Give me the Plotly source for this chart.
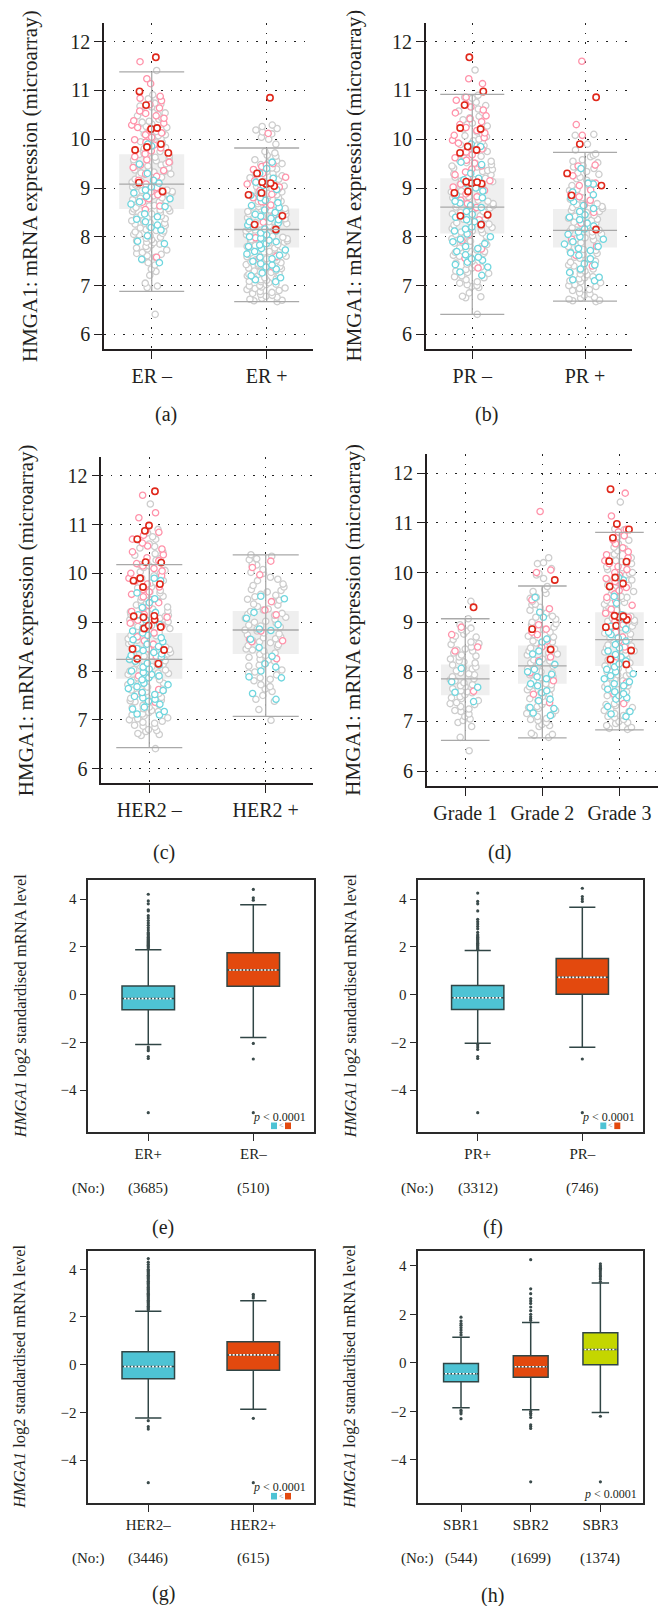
import plotly.graph_objects as go

W, H = 658, 1606
SERIF = "Liberation Serif"
INK = "#231f20"

# ------------------------------------------------------------------
# DATA - top panels (HMGA1 microarray expression, jittered samples)
# ------------------------------------------------------------------
ER_CATS = ["ER –", "ER +"]
ER_NEG_GREY = [6.41, 6.96, 6.99, 7.21, 7.29, 7.34, 7.47, 7.53, 7.58, 7.61, 7.66, 7.68, 7.73, 7.77, 7.8, 7.83, 7.85, 7.89, 7.92, 7.94, 7.99, 8.02, 8.04, 8.07, 8.1, 8.13, 8.15, 8.18, 8.21, 8.23, 8.26, 8.29, 8.31, 8.35, 8.37, 8.4, 8.42, 8.47, 8.5, 8.52, 8.55, 8.58, 8.6, 8.64, 8.66, 8.69, 8.72, 8.76, 8.79, 8.82, 8.85, 8.87, 8.91, 8.93, 8.96, 8.99, 9.02, 9.04, 9.07, 9.1, 9.14, 9.17, 9.19, 9.22, 9.26, 9.28, 9.31, 9.34, 9.37, 9.41, 9.44, 9.47, 9.5, 9.53, 9.56, 9.6, 9.63, 9.66, 9.69, 9.72, 9.75, 9.79, 9.83, 9.87, 9.91, 9.95, 9.98, 10.03, 10.07, 10.11, 10.16, 10.21, 10.26, 10.31, 10.37, 10.44, 10.5, 10.56, 10.63, 10.68, 10.72, 10.79, 10.86, 10.91, 11.41]
ER_NEG_GREY2 = [7.05, 7.42, 7.64, 7.75, 7.88, 7.97, 8.05, 8.12, 8.2, 8.28, 8.33, 8.39, 8.45, 8.53, 8.57, 8.63, 8.68, 8.74, 8.8, 8.84, 8.9, 8.95, 9.01, 9.06, 9.12, 9.18, 9.23, 9.29, 9.33, 9.39, 9.45, 9.52, 9.58, 9.64, 9.71, 9.77, 9.81, 9.89, 9.94, 10.01, 10.09, 10.14, 10.19, 10.24, 10.35, 10.41, 10.48, 10.54, 10.66, 10.74, 10.83]
ER_NEG_PINK = [7.58, 8.56, 8.63, 8.71, 8.78, 8.86, 8.92, 9.01, 9.08, 9.16, 9.24, 9.29, 9.36, 9.42, 9.47, 9.53, 9.58, 9.64, 9.7, 9.76, 9.82, 9.88, 9.94, 9.99, 10.04, 10.09, 10.13, 10.18, 10.24, 10.29, 10.33, 10.38, 10.43, 10.48, 10.53, 10.58, 10.64, 10.71, 10.79, 10.84, 10.88, 11.14, 11.24, 11.59]
ER_NEG_CYAN = [7.47, 7.54, 7.86, 7.91, 8.02, 8.14, 8.19, 8.24, 8.31, 8.36, 8.41, 8.47, 8.62, 8.67, 8.72, 8.78, 8.83, 8.9, 8.96, 9.02, 9.1, 9.16, 9.3, 9.49, 9.86, 9.9]
ER_NEG_RED = [11.68, 10.98, 10.7, 10.23, 10.21, 9.9, 9.84, 9.78, 9.72, 9.11, 8.93]
ER_POS_GREY = [6.67, 6.7, 6.72, 6.74, 6.78, 6.82, 6.86, 6.88, 6.92, 6.95, 6.97, 7.0, 7.03, 7.06, 7.09, 7.12, 7.14, 7.17, 7.2, 7.23, 7.25, 7.28, 7.31, 7.33, 7.36, 7.39, 7.41, 7.44, 7.47, 7.49, 7.52, 7.55, 7.57, 7.6, 7.62, 7.65, 7.67, 7.7, 7.72, 7.75, 7.77, 7.8, 7.82, 7.84, 7.87, 7.89, 7.92, 7.94, 7.97, 7.99, 8.02, 8.04, 8.07, 8.09, 8.12, 8.14, 8.17, 8.19, 8.22, 8.24, 8.27, 8.29, 8.32, 8.34, 8.37, 8.39, 8.42, 8.45, 8.47, 8.5, 8.53, 8.55, 8.58, 8.61, 8.63, 8.66, 8.69, 8.72, 8.74, 8.77, 8.8, 8.83, 8.86, 8.89, 8.92, 8.95, 8.98, 9.01, 9.04, 9.07, 9.11, 9.14, 9.18, 9.21, 9.25, 9.29, 9.33, 9.37, 9.41, 9.45, 9.5, 9.54, 9.58, 9.62, 9.67, 9.72, 9.9, 10.04, 10.11, 10.19, 10.26, 10.29]
ER_POS_GREY2 = [6.69, 6.76, 6.8, 6.84, 6.9, 6.94, 6.99, 7.02, 7.08, 7.11, 7.16, 7.22, 7.27, 7.3, 7.35, 7.4, 7.43, 7.48, 7.53, 7.59, 7.64, 7.69, 7.74, 7.79, 7.85, 7.91, 7.96, 8.01, 8.06, 8.11, 8.16, 8.21, 8.26, 8.31, 8.36, 8.41, 8.46, 8.52, 8.57, 8.62, 8.68, 8.73, 8.79, 8.85, 8.91, 8.97, 9.03, 9.09, 9.16, 9.23, 9.31, 9.39, 9.48, 9.56, 9.65, 9.75, 10.0, 10.15, 10.22]
ER_POS_PINK = [7.38, 7.55, 7.6, 7.98, 8.3, 8.45, 8.6, 8.65, 8.72, 8.8, 8.87, 8.95, 9.02, 9.08, 9.15, 9.22, 9.3, 9.38, 9.44, 9.47, 9.5, 10.12]
ER_POS_CYAN = [7.08, 7.12, 7.16, 7.2, 7.26, 7.34, 7.38, 7.42, 7.45, 7.5, 7.55, 7.58, 7.62, 7.65, 7.7, 7.73, 7.76, 7.8, 7.83, 7.86, 7.9, 7.93, 7.97, 8.0, 8.04, 8.08, 8.12, 8.16, 8.2, 8.24, 8.28, 8.31, 8.35, 8.38, 8.42, 8.46, 8.5, 8.55, 8.6, 8.64, 8.7, 8.75, 8.8, 8.85, 8.9, 8.97, 9.05, 9.12, 9.2, 9.3, 9.4, 9.53]
ER_POS_RED = [10.85, 9.3, 9.12, 9.1, 9.08, 9.04, 8.9, 8.86, 8.43, 8.25, 8.15]
ER_LO = [6.88, 6.67]
ER_Q1 = [8.57, 7.78]
ER_MED = [9.08, 8.15]
ER_Q3 = [9.69, 8.58]
ER_HI = [11.38, 9.82]

PR_CATS = ["PR –", "PR +"]
PR_NEG_GREY = [6.41, 6.75, 6.78, 6.85, 6.96, 7.0, 7.02, 7.05, 7.12, 7.16, 7.2, 7.25, 7.3, 7.33, 7.38, 7.42, 7.46, 7.5, 7.54, 7.58, 7.62, 7.66, 7.7, 7.73, 7.77, 7.8, 7.84, 7.87, 7.91, 7.94, 7.98, 8.01, 8.05, 8.08, 8.12, 8.15, 8.19, 8.22, 8.26, 8.29, 8.33, 8.36, 8.4, 8.43, 8.47, 8.5, 8.54, 8.57, 8.61, 8.64, 8.68, 8.71, 8.75, 8.78, 8.82, 8.85, 8.89, 8.92, 8.96, 8.99, 9.03, 9.06, 9.1, 9.13, 9.17, 9.2, 9.24, 9.27, 9.31, 9.34, 9.38, 9.41, 9.45, 9.48, 9.52, 9.55, 9.59, 9.63, 9.67, 9.71, 9.75, 9.79, 9.83, 9.87, 9.91, 9.95, 10.0, 10.05, 10.1, 10.15, 10.21, 10.27, 10.33, 10.4, 10.47, 10.55, 10.62, 10.69, 10.76, 10.84, 10.9, 11.42]
PR_NEG_GREY2 = [6.77, 6.98, 7.08, 7.18, 7.27, 7.36, 7.44, 7.52, 7.6, 7.68, 7.75, 7.82, 7.89, 7.96, 8.03, 8.1, 8.17, 8.24, 8.31, 8.38, 8.45, 8.52, 8.59, 8.66, 8.73, 8.8, 8.87, 8.94, 9.01, 9.08, 9.15, 9.22, 9.29, 9.36, 9.43, 9.5, 9.57, 9.65, 9.73, 9.81, 9.89, 9.97, 10.07, 10.18, 10.3, 10.44, 10.58, 10.72, 10.86]
PR_NEG_PINK = [7.36, 7.56, 7.75, 7.92, 8.05, 8.35, 8.52, 8.6, 8.68, 8.75, 8.82, 8.88, 8.95, 9.02, 9.08, 9.15, 9.21, 9.27, 9.33, 9.39, 9.45, 9.51, 9.57, 9.62, 9.68, 9.74, 9.8, 9.86, 9.92, 9.98, 10.03, 10.08, 10.13, 10.18, 10.24, 10.3, 10.36, 10.42, 10.48, 10.54, 10.6, 10.66, 10.72, 10.8, 10.86, 11.14, 11.24]
PR_NEG_CYAN = [7.21, 7.28, 7.38, 7.43, 7.48, 7.52, 7.55, 7.58, 7.63, 7.7, 7.76, 7.8, 7.86, 7.9, 7.95, 8.0, 8.06, 8.12, 8.16, 8.2, 8.26, 8.31, 8.35, 8.4, 8.46, 8.52, 8.6, 8.64, 8.69, 8.73, 8.8, 8.86, 8.94, 9.0, 9.08, 9.17, 9.2, 9.3, 9.48, 9.53, 9.85, 9.9]
PR_NEG_RED = [11.68, 10.98, 10.7, 10.23, 10.21, 9.85, 9.78, 9.72, 9.12, 9.1, 9.13, 9.09, 8.9, 8.93, 8.45, 8.43, 8.25]
PR_POS_GREY = [6.67, 6.7, 6.72, 6.76, 6.8, 6.85, 6.9, 6.94, 6.98, 7.02, 7.06, 7.1, 7.14, 7.18, 7.22, 7.26, 7.3, 7.34, 7.38, 7.42, 7.46, 7.5, 7.54, 7.58, 7.62, 7.66, 7.7, 7.74, 7.78, 7.82, 7.86, 7.9, 7.94, 7.98, 8.02, 8.06, 8.1, 8.14, 8.18, 8.22, 8.26, 8.3, 8.34, 8.38, 8.42, 8.46, 8.5, 8.54, 8.58, 8.62, 8.66, 8.7, 8.75, 8.8, 8.85, 8.9, 8.95, 9.0, 9.05, 9.1, 9.16, 9.22, 9.28, 9.34, 9.4, 9.46, 9.52, 9.58, 9.64, 9.7, 9.78, 9.9, 10.08, 10.1]
PR_POS_GREY2 = [6.69, 6.74, 6.83, 6.92, 7.0, 7.08, 7.16, 7.24, 7.32, 7.4, 7.48, 7.56, 7.64, 7.72, 7.8, 7.88, 7.96, 8.04, 8.12, 8.2, 8.28, 8.36, 8.44, 8.52, 8.6, 8.68, 8.77, 8.87, 8.97, 9.07, 9.19, 9.31, 9.43, 9.55, 9.67]
PR_POS_PINK = [7.4, 7.62, 7.8, 7.95, 8.28, 8.5, 8.65, 8.75, 8.82, 8.88, 8.96, 9.05, 9.1, 9.25, 9.45, 9.47, 10.08, 10.3, 11.6]
PR_POS_CYAN = [7.1, 7.12, 7.17, 7.27, 7.34, 7.42, 7.45, 7.55, 7.62, 7.67, 7.72, 7.76, 7.8, 7.85, 7.9, 7.95, 8.0, 8.05, 8.1, 8.16, 8.22, 8.28, 8.35, 8.4, 8.45, 8.52, 8.58, 8.64, 8.72, 8.8, 8.86, 8.92, 9.08, 9.1, 9.4]
PR_POS_RED = [10.86, 9.9, 9.3, 9.05, 8.85, 8.15]
PR_LO = [6.41, 6.68]
PR_Q1 = [8.07, 7.78]
PR_MED = [8.61, 8.13]
PR_Q3 = [9.2, 8.57]
PR_HI = [10.92, 9.73]

HER2_CATS = ["HER2 –", "HER2 +"]
HER2_NEG_GREY = [6.41, 6.68, 6.72, 6.76, 6.8, 6.85, 6.89, 6.93, 6.97, 7.0, 7.04, 7.08, 7.12, 7.15, 7.19, 7.23, 7.26, 7.3, 7.33, 7.37, 7.4, 7.44, 7.47, 7.51, 7.54, 7.58, 7.61, 7.65, 7.68, 7.72, 7.75, 7.79, 7.82, 7.86, 7.89, 7.93, 7.96, 8.0, 8.03, 8.07, 8.1, 8.14, 8.17, 8.21, 8.24, 8.28, 8.31, 8.35, 8.38, 8.42, 8.45, 8.49, 8.52, 8.56, 8.59, 8.63, 8.66, 8.7, 8.73, 8.77, 8.8, 8.84, 8.87, 8.91, 8.94, 8.98, 9.01, 9.05, 9.08, 9.12, 9.15, 9.19, 9.23, 9.27, 9.31, 9.35, 9.39, 9.43, 9.47, 9.51, 9.55, 9.6, 9.65, 9.7, 9.75, 9.8, 9.85, 9.9, 9.95, 10.0, 10.06, 10.12, 10.18, 10.24, 10.3, 10.37, 10.44, 10.52, 10.6, 10.68, 10.75, 10.83, 10.9, 11.42]
HER2_NEG_GREY2 = [6.7, 6.78, 6.87, 6.95, 7.02, 7.1, 7.17, 7.25, 7.32, 7.39, 7.46, 7.53, 7.6, 7.67, 7.74, 7.81, 7.88, 7.95, 8.02, 8.09, 8.16, 8.23, 8.3, 8.37, 8.44, 8.51, 8.58, 8.65, 8.72, 8.79, 8.86, 8.93, 9.0, 9.07, 9.14, 9.21, 9.29, 9.37, 9.45, 9.53, 9.62, 9.72, 9.82, 9.92, 10.03, 10.15, 10.27, 10.4, 10.55, 10.7, 10.86]
HER2_NEG_PINK = [7.36, 7.55, 7.62, 7.9, 8.1, 8.3, 8.45, 8.55, 8.62, 8.7, 8.78, 8.85, 8.92, 8.98, 9.04, 9.1, 9.16, 9.22, 9.28, 9.34, 9.4, 9.46, 9.52, 9.57, 9.62, 9.67, 9.72, 9.78, 9.84, 9.9, 9.95, 10.0, 10.05, 10.1, 10.15, 10.2, 10.26, 10.32, 10.38, 10.44, 10.5, 10.56, 10.62, 10.7, 10.78, 10.84, 10.88, 11.14, 11.24, 11.6]
HER2_NEG_CYAN = [7.1, 7.12, 7.17, 7.22, 7.26, 7.32, 7.38, 7.42, 7.45, 7.48, 7.52, 7.56, 7.6, 7.64, 7.68, 7.72, 7.75, 7.78, 7.82, 7.86, 7.9, 7.93, 7.97, 8.0, 8.04, 8.08, 8.12, 8.16, 8.2, 8.24, 8.28, 8.32, 8.35, 8.38, 8.42, 8.46, 8.5, 8.55, 8.6, 8.64, 8.68, 8.73, 8.78, 8.82, 8.88, 8.95, 9.05, 9.15, 9.2, 9.3, 9.4, 9.48, 9.6, 9.85, 9.9]
HER2_NEG_RED = [11.68, 10.98, 10.87, 10.7, 10.22, 10.23, 9.9, 9.85, 9.78, 9.72, 9.12, 9.1, 9.13, 9.05, 8.93, 8.9, 8.87, 8.45, 8.43, 8.25, 8.15]
HER2_POS_GREY = [6.99, 7.21, 7.38, 7.42, 7.58, 7.63, 7.72, 7.8, 7.86, 7.92, 7.96, 8.02, 8.06, 8.1, 8.15, 8.2, 8.24, 8.28, 8.32, 8.37, 8.41, 8.45, 8.5, 8.54, 8.58, 8.62, 8.66, 8.7, 8.74, 8.78, 8.82, 8.86, 8.9, 8.94, 8.98, 9.02, 9.06, 9.1, 9.14, 9.18, 9.22, 9.27, 9.32, 9.37, 9.42, 9.47, 9.52, 9.57, 9.62, 9.67, 9.72, 9.78, 9.85, 9.92, 10.0, 10.08, 10.15, 10.2, 10.28, 10.35, 10.38]
HER2_POS_GREY2 = [7.5, 7.68, 7.83, 7.98, 8.12, 8.22, 8.34, 8.43, 8.52, 8.6, 8.68, 8.76, 8.84, 8.92, 9.0, 9.08, 9.16, 9.25, 9.35, 9.45, 9.55, 9.65, 9.75, 9.88, 10.02, 10.17, 10.3]
HER2_POS_PINK = [10.25, 10.12, 9.97, 9.42, 9.25, 9.15, 8.82, 8.65, 8.6, 8.62, 8.25]
HER2_POS_CYAN = [9.53, 9.48, 9.2, 9.08, 8.95, 8.86, 8.83, 8.65, 8.48, 8.3, 8.15, 8.08, 8.0, 7.88, 7.86, 7.54, 7.42]
HER2_POS_RED = []
HER2_LO = [6.43, 7.07]
HER2_Q1 = [7.84, 8.35]
HER2_MED = [8.24, 8.84]
HER2_Q3 = [8.78, 9.23]
HER2_HI = [10.18, 10.38]

GRADE_CATS = ["Grade 1", "Grade 2", "Grade 3"]
G1_GREY = [6.41, 6.68, 6.9, 6.98, 7.02, 7.1, 7.15, 7.2, 7.25, 7.3, 7.34, 7.38, 7.42, 7.46, 7.5, 7.54, 7.58, 7.62, 7.66, 7.7, 7.74, 7.78, 7.82, 7.86, 7.9, 7.94, 7.98, 8.02, 8.06, 8.1, 8.14, 8.18, 8.22, 8.26, 8.3, 8.34, 8.38, 8.42, 8.46, 8.5, 8.55, 8.6, 8.65, 8.7, 8.76, 8.82, 8.88, 8.95, 9.07, 9.42]
G1_GREY2 = [7.05, 7.22, 7.36, 7.48, 7.6, 7.72, 7.84, 7.96, 8.08, 8.2, 8.32, 8.44, 8.57, 8.72, 8.85]
G1_PINK = [8.9, 8.75, 8.5, 8.42, 7.61]
G1_CYAN = [8.07, 7.8, 7.69, 7.59, 7.4]
G1_RED = [9.3]
G2_GREY = [6.68, 6.72, 6.76, 6.9, 6.94, 6.98, 7.02, 7.06, 7.1, 7.14, 7.18, 7.22, 7.26, 7.3, 7.34, 7.38, 7.42, 7.46, 7.5, 7.54, 7.58, 7.62, 7.66, 7.7, 7.74, 7.78, 7.82, 7.86, 7.9, 7.94, 7.98, 8.02, 8.06, 8.1, 8.14, 8.18, 8.22, 8.26, 8.3, 8.34, 8.38, 8.42, 8.46, 8.5, 8.54, 8.58, 8.62, 8.66, 8.7, 8.75, 8.8, 8.85, 8.9, 8.95, 9.0, 9.06, 9.12, 9.18, 9.24, 9.3, 9.36, 9.42, 9.5, 9.58, 9.66, 9.72, 9.88, 9.95, 10.08, 10.18, 10.3]
G2_GREY2 = [6.74, 6.92, 7.04, 7.16, 7.28, 7.4, 7.52, 7.64, 7.76, 7.88, 8.0, 8.12, 8.24, 8.36, 8.48, 8.6, 8.72, 8.84, 8.97, 9.1, 9.22, 9.35, 9.48, 9.62, 9.98, 10.2]
G2_PINK = [11.23, 10.05, 10.0, 9.45, 9.27, 8.95, 8.86, 8.8, 8.75, 8.62, 8.5, 8.3, 8.22, 7.98, 7.82, 7.55, 7.38]
G2_CYAN = [9.5, 9.2, 9.1, 8.66, 8.6, 8.42, 8.36, 8.2, 8.15, 8.05, 8.0, 7.95, 7.9, 7.86, 7.76, 7.72, 7.62, 7.58, 7.45, 7.42, 7.28, 7.26, 7.17, 7.12]
G2_RED = [9.85, 8.86, 8.45]
G3_GREY = [6.84, 6.88, 6.92, 6.96, 7.0, 7.04, 7.08, 7.12, 7.16, 7.2, 7.24, 7.28, 7.32, 7.36, 7.4, 7.44, 7.48, 7.52, 7.56, 7.6, 7.64, 7.68, 7.72, 7.76, 7.8, 7.84, 7.88, 7.92, 7.96, 8.0, 8.04, 8.08, 8.12, 8.16, 8.2, 8.24, 8.28, 8.32, 8.36, 8.4, 8.44, 8.48, 8.52, 8.56, 8.6, 8.64, 8.68, 8.72, 8.76, 8.8, 8.84, 8.88, 8.92, 8.96, 9.0, 9.04, 9.08, 9.12, 9.16, 9.2, 9.24, 9.28, 9.32, 9.36, 9.4, 9.44, 9.48, 9.52, 9.56, 9.6, 9.65, 9.7, 9.75, 9.8, 9.85, 9.9, 9.95, 10.0, 10.06, 10.12, 10.18, 10.24, 10.3, 10.37, 10.44, 10.51, 10.58, 10.65, 10.72, 10.8, 10.88, 11.42]
G3_GREY2 = [6.86, 6.98, 7.1, 7.22, 7.34, 7.46, 7.58, 7.7, 7.82, 7.94, 8.06, 8.18, 8.3, 8.42, 8.54, 8.66, 8.78, 8.9, 9.02, 9.14, 9.26, 9.38, 9.5, 9.62, 9.74, 9.86, 9.98, 10.1, 10.22, 10.34, 10.48, 10.62, 10.76, 10.86]
G3_PINK = [7.36, 7.55, 7.78, 8.0, 8.3, 8.5, 8.62, 8.7, 8.8, 8.88, 8.95, 9.02, 9.1, 9.18, 9.26, 9.34, 9.42, 9.5, 9.57, 9.64, 9.7, 9.76, 9.82, 9.88, 9.95, 10.0, 10.06, 10.12, 10.18, 10.24, 10.3, 10.36, 10.42, 10.5, 10.58, 10.66, 10.74, 10.82, 10.87, 11.14, 11.6]
G3_CYAN = [7.1, 7.15, 7.2, 7.3, 7.45, 7.48, 7.52, 7.56, 7.6, 7.65, 7.72, 7.76, 7.8, 7.86, 7.92, 7.96, 8.0, 8.05, 8.1, 8.16, 8.22, 8.3, 8.35, 8.42, 8.48, 8.55, 8.62, 8.68, 8.75, 8.8, 8.86, 8.92, 9.05, 9.15, 9.38, 9.52, 9.85, 9.9]
G3_RED = [11.68, 10.98, 10.87, 10.7, 10.22, 10.23, 9.9, 9.78, 9.72, 9.12, 9.1, 9.13, 9.05, 8.93, 8.9, 8.43, 8.25, 8.15]
GRADE_LO = [6.62, 6.67, 6.83]
GRADE_Q1 = [7.53, 7.76, 8.12]
GRADE_MED = [7.86, 8.12, 8.65]
GRADE_Q3 = [8.15, 8.53, 9.2]
GRADE_HI = [9.07, 9.73, 10.81]

# ------------------------------------------------------------------
# DATA - bottom panels (log2 standardised mRNA level box plots)
# ------------------------------------------------------------------
ERB_CATS = ["ER+", "ER–"]
ERB_N = ["(3685)", "(510)"]
ERB_LO = [-2.09, -1.80]
ERB_Q1 = [-0.64, 0.35]
ERB_MED = [-0.17, 1.03]
ERB_Q3 = [0.36, 1.75]
ERB_HI = [1.87, 3.76]
ERB_OUT_0 = [1.92, 1.97, 2.02, 2.06, 2.1, 2.14, 2.18, 2.22, 2.26, 2.3, 2.35, 2.4, 2.45, 2.5, 2.55, 2.6, 2.7, 2.8, 2.9, 3.0, 3.1, 3.2, 3.3, 3.5, 3.55, 3.8, 3.92, 4.2, -2.2, -2.28, -2.35, -2.6, -2.68, -4.95]
ERB_OUT_1 = [3.95, 4.05, 4.4, -2.05, -2.7, -4.95]

PRB_CATS = ["PR+", "PR–"]
PRB_N = ["(3312)", "(746)"]
PRB_LO = [-2.04, -2.21]
PRB_Q1 = [-0.63, 0.01]
PRB_MED = [-0.14, 0.72]
PRB_Q3 = [0.38, 1.51]
PRB_HI = [1.84, 3.66]
PRB_OUT_0 = [1.9, 1.95, 2.0, 2.05, 2.1, 2.15, 2.2, 2.25, 2.3, 2.35, 2.4, 2.45, 2.5, 2.6, 2.75, 2.85, 2.95, 3.05, 3.15, 3.5, 3.8, 3.9, 4.25, -2.1, -2.2, -2.3, -2.6, -2.68, -4.95]
PRB_OUT_1 = [3.9, 4.0, 4.1, 4.45, -2.7, -4.95]

HERB_CATS = ["HER2–", "HER2+"]
HERB_N = ["(3446)", "(615)"]
HERB_LO = [-2.24, -1.87]
HERB_Q1 = [-0.59, -0.23]
HERB_MED = [-0.08, 0.41]
HERB_Q3 = [0.54, 0.96]
HERB_HI = [2.24, 2.68]
HERB_OUT_0 = [2.3, 2.35, 2.4, 2.45, 2.5, 2.55, 2.6, 2.65, 2.7, 2.75, 2.8, 2.85, 2.9, 2.95, 3.0, 3.05, 3.1, 3.15, 3.2, 3.25, 3.3, 3.35, 3.4, 3.45, 3.5, 3.55, 3.6, 3.65, 3.7, 3.75, 3.8, 3.85, 3.9, 3.95, 4.0, 4.1, 4.2, 4.3, 4.45, -2.35, -2.6, -2.7, -4.95]
HERB_OUT_1 = [2.8, 2.88, 2.95, -2.25, -4.95]

SBR_CATS = ["SBR1", "SBR2", "SBR3"]
SBR_N = ["(544)", "(1699)", "(1374)"]
SBR_LO = [-1.85, -1.93, -2.04]
SBR_Q1 = [-0.78, -0.59, -0.08]
SBR_MED = [-0.45, -0.16, 0.55]
SBR_Q3 = [-0.03, 0.29, 1.24]
SBR_HI = [1.06, 1.66, 3.29]
SBR_OUT_0 = [1.15, 1.25, 1.35, 1.45, 1.55, 1.62, 1.72, 1.88, -1.95, -2.02, -2.1, -2.3]
SBR_OUT_1 = [1.75, 1.82, 1.9, 2.0, 2.15, 2.3, 2.45, 2.55, 2.65, 2.85, 3.05, 4.25, -2.0, -2.08, -2.15, -2.25, -2.55, -2.62, -2.7, -4.9]
SBR_OUT_2 = [3.35, 3.45, 3.55, 3.62, 3.7, 3.78, 3.85, 3.9, 3.95, 4.0, 4.08, -2.2, -4.9]

# ------------------------------------------------------------------
# STYLE
# ------------------------------------------------------------------
DOT_COLORS = ["#cdcdcd", "#ff93aa", "#6fd6de", "#e0281b"]
BOX_FILLS = ["#4ec3d4", "#e3490e", "#c4d600"]

fig = go.Figure()
layout = {}
annotations = []
shapes = []


def names(k):
    s = "" if k == 1 else str(k)
    return "x" + s, "y" + s, "xaxis" + s, "yaxis" + s


def dom_x(a, b):
    return [a / W, b / W]


def dom_y(top, bottom):
    return [1 - bottom / H, 1 - top / H]


def text(x, y, t, size, **kw):
    d = dict(x=x / W, y=1 - y / H, xref="paper", yref="paper", text=t,
             showarrow=False, font=dict(family=SERIF, size=size, color=INK),
             xanchor="center", yanchor="middle")
    d.update(kw)
    annotations.append(d)


TOP = [
    dict(k=1, cats=ER_CATS,
         groups=[(ER_NEG_GREY + ER_NEG_GREY2, ER_NEG_PINK, ER_NEG_CYAN, ER_NEG_RED),
                 (ER_POS_GREY + ER_POS_GREY2, ER_POS_PINK, ER_POS_CYAN, ER_POS_RED)],
         stats=(ER_LO, ER_Q1, ER_MED, ER_Q3, ER_HI),
         xpx=(104, 313), ypx=(23, 349), xr=[-0.415, 1.403], bw=0.565,
         lab=("(a)", 166, 415), tx=30),
    dict(k=2, cats=PR_CATS,
         groups=[(PR_NEG_GREY + PR_NEG_GREY2, PR_NEG_PINK, PR_NEG_CYAN, PR_NEG_RED),
                 (PR_POS_GREY + PR_POS_GREY2, PR_POS_PINK, PR_POS_CYAN, PR_POS_RED)],
         stats=(PR_LO, PR_Q1, PR_MED, PR_Q3, PR_HI),
         xpx=(425.7, 631.7), ypx=(23, 349), xr=[-0.413, 1.414], bw=0.568,
         lab=("(b)", 487, 415), tx=353.5),
    dict(k=3, cats=HER2_CATS,
         groups=[(HER2_NEG_GREY + HER2_NEG_GREY2, HER2_NEG_PINK, HER2_NEG_CYAN, HER2_NEG_RED),
                 (HER2_POS_GREY + HER2_POS_GREY2, HER2_POS_PINK, HER2_POS_CYAN, HER2_POS_RED)],
         stats=(HER2_LO, HER2_Q1, HER2_MED, HER2_Q3, HER2_HI),
         xpx=(101.3, 313), ypx=(457, 783.3), xr=[-0.412, 1.406], bw=0.567,
         lab=("(c)", 164, 852), tx=26),
    dict(k=4, cats=GRADE_CATS,
         groups=[(G1_GREY + G1_GREY2, G1_PINK, G1_CYAN, G1_RED),
                 (G2_GREY + G2_GREY2, G2_PINK, G2_CYAN, G2_RED),
                 (G3_GREY + G3_GREY2, G3_PINK, G3_CYAN, G3_RED)],
         stats=(GRADE_LO, GRADE_Q1, GRADE_MED, GRADE_Q3, GRADE_HI),
         xpx=(426.7, 658), ypx=(454.3, 786), xr=[-0.5, 2.5], bw=0.63,
         lab=("(d)", 499, 852), tx=353.5),
]

for p in TOP:
    xn, yn, xa, ya = names(p["k"])
    lo, q1, med, q3, hi = p["stats"]
    pos = list(range(len(p["cats"])))
    bw = p["bw"]
    # IQR box
    fig.add_trace(go.Bar(x=pos, y=[b - a for a, b in zip(q1, q3)], base=q1,
                         width=[bw] * len(pos), marker=dict(color="#efefef", line=dict(width=0)),
                         xaxis=xn, yaxis=yn, showlegend=False, hoverinfo="skip"))
    # whiskers, caps, median
    lx, ly = [], []
    for i in pos:
        lx += [i, i, None, i - bw / 2, i + bw / 2, None, i - bw / 2, i + bw / 2, None,
               i - bw / 2, i + bw / 2, None]
        ly += [lo[i], hi[i], None, lo[i], lo[i], None, hi[i], hi[i], None,
               med[i], med[i], None]
    fig.add_trace(go.Scatter(x=lx, y=ly, mode="lines", line=dict(color="#a9a9a9", width=1.3),
                             xaxis=xn, yaxis=yn, showlegend=False, hoverinfo="skip"))
    # jittered samples
    for i, grp in enumerate(p["groups"]):
        for vals, col in zip(grp, DOT_COLORS):
            if not vals:
                continue
            fig.add_trace(go.Box(
                y=vals, x0=i, width=bw, boxpoints="all", jitter=0.66, pointpos=0,
                fillcolor="rgba(0,0,0,0)", line=dict(width=0, color="rgba(0,0,0,0)"),
                marker=dict(color="white", size=6.3,
                            line=dict(color=col, width=1.6 if col == DOT_COLORS[3] else 1.3)),
                xaxis=xn, yaxis=yn, showlegend=False, hoverinfo="skip"))
    common = dict(showline=True, linecolor=INK, linewidth=1.5, ticks="outside", ticklen=8,
                  tickwidth=1.3, tickcolor=INK, showgrid=True, gridcolor="#222",
                  griddash="1.5px,8px", gridwidth=1.3, zeroline=False,
                  tickfont=dict(family=SERIF, size=20, color=INK))
    layout[xa] = dict(common, domain=dom_x(*p["xpx"]), range=p["xr"], type="linear",
                      tickvals=pos, ticktext=p["cats"], anchor=yn)
    layout[ya] = dict(common, domain=dom_y(*p["ypx"]), range=[5.7, 12.383], type="linear",
                      tickvals=[6, 7, 8, 9, 10, 11, 12], anchor=xn)
    text(p["tx"], (p["ypx"][0] + p["ypx"][1]) / 2, "HMGA1: mRNA expression (microarray)", 21,
         textangle=-90)
    text(p["lab"][1], p["lab"][2], p["lab"][0], 20)

BOTTOM = [
    dict(k=5, cats=ERB_CATS, n=ERB_N, stats=(ERB_LO, ERB_Q1, ERB_MED, ERB_Q3, ERB_HI),
         outs=[ERB_OUT_0, ERB_OUT_1], xpx=(88.3, 314), ypx=(880, 1132.3),
         xr=[-0.571, 1.578], yr=[-5.77, 4.796], lab=("(e)", 163, 1227), tx=20,
         no=(88, 1188), legend=True),
    dict(k=6, cats=PRB_CATS, n=PRB_N, stats=(PRB_LO, PRB_Q1, PRB_MED, PRB_Q3, PRB_HI),
         outs=[PRB_OUT_0, PRB_OUT_1], xpx=(418.3, 643.3), ypx=(880, 1132.3),
         xr=[-0.568, 1.583], yr=[-5.77, 4.796], lab=("(f)", 493, 1227), tx=350,
         no=(418, 1188), legend=True),
    dict(k=7, cats=HERB_CATS, n=HERB_N, stats=(HERB_LO, HERB_Q1, HERB_MED, HERB_Q3, HERB_HI),
         outs=[HERB_OUT_0, HERB_OUT_1], xpx=(88.3, 314), ypx=(1251, 1502.7),
         xr=[-0.571, 1.578], yr=[-5.79, 4.768], lab=("(g)", 163, 1593), tx=20,
         no=(88, 1558), legend=True),
    dict(k=8, cats=SBR_CATS, n=SBR_N, stats=(SBR_LO, SBR_Q1, SBR_MED, SBR_Q3, SBR_HI),
         outs=[SBR_OUT_0, SBR_OUT_1, SBR_OUT_2], xpx=(418.3, 643.3), ypx=(1250.7, 1502.7),
         xr=[-0.613, 2.616], yr=[-5.76, 4.62], lab=("(h)", 492, 1595), tx=350,
         no=(417.5, 1558), legend=False),
]

for p in BOTTOM:
    xn, yn, xa, ya = names(p["k"])
    lo, q1, med, q3, hi = p["stats"]
    pos = list(range(len(p["cats"])))
    bw = 0.5
    for i in pos:
        fig.add_trace(go.Box(
            x=[i], q1=[q1[i]], median=[med[i]], q3=[q3[i]], lowerfence=[lo[i]],
            upperfence=[hi[i]], width=bw, whiskerwidth=0.5, boxpoints=False,
            fillcolor=BOX_FILLS[i], line=dict(color="#304545", width=1.5),
            xaxis=xn, yaxis=yn, showlegend=False, hoverinfo="skip"))
        fig.add_trace(go.Scatter(
            x=[i - bw / 2 + 0.02, i + bw / 2 - 0.02], y=[med[i], med[i]], mode="lines",
            line=dict(color="white", width=1.6, dash="2px,1.5px"),
            xaxis=xn, yaxis=yn, showlegend=False, hoverinfo="skip"))
        fig.add_trace(go.Scatter(
            x=[i] * len(p["outs"][i]), y=p["outs"][i], mode="markers",
            marker=dict(color="#3b4b4b", size=3.2),
            xaxis=xn, yaxis=yn, showlegend=False, hoverinfo="skip"))
    common = dict(showline=True, mirror=True, linecolor="#2a2a2a", linewidth=1.6,
                  ticks="outside", ticklen=7, tickwidth=1.3, tickcolor="#2a2a2a",
                  showgrid=False, zeroline=False,
                  tickfont=dict(family=SERIF, size=15, color=INK))
    layout[xa] = dict(common, domain=dom_x(*p["xpx"]), range=p["xr"], type="linear",
                      tickvals=pos, ticktext=p["cats"], anchor=yn)
    layout[ya] = dict(common, domain=dom_y(*p["ypx"]), range=p["yr"], type="linear",
                      tickvals=[-4, -2, 0, 2, 4], ticktext=["−4", "−2", "0", "2", "4"],
                      anchor=xn)
    text(p["tx"], (p["ypx"][0] + p["ypx"][1]) / 2,
         "<i>HMGA1</i> log2 standardised mRNA level", 16.5, textangle=-90)
    text(p["lab"][1], p["lab"][2], p["lab"][0], 20)
    # (No:) row
    text(p["no"][0], p["no"][1], "(No:)", 15)
    x0, x1 = p["xpx"]
    for i in pos:
        xpix = x0 + (i - p["xr"][0]) / (p["xr"][1] - p["xr"][0]) * (x1 - x0)
        text(xpix, p["no"][1], p["n"][i], 15)
    # p-value
    if p["legend"]:
        text(x1 - 6, p["ypx"][1] - 15.5, "<i>p</i> &lt; 0.0001", 12, xanchor="right")
        sy = p["ypx"][1] - 6.5
        shapes.append(dict(type="rect", xref="paper", yref="paper",
                           x0=(x1 - 43) / W, x1=(x1 - 37) / W, y0=1 - (sy + 3.3) / H,
                           y1=1 - (sy - 3.3) / H, fillcolor=BOX_FILLS[0], line=dict(width=0)))
        shapes.append(dict(type="rect", xref="paper", yref="paper",
                           x0=(x1 - 29) / W, x1=(x1 - 23) / W, y0=1 - (sy + 3.3) / H,
                           y1=1 - (sy - 3.3) / H, fillcolor=BOX_FILLS[1], line=dict(width=0)))
        text(x1 - 33, sy, "&lt;", 8, font=dict(family=SERIF, size=8, color="#777"))
    else:
        text(x1 - 4, p["ypx"][1] - 9, "<i>p</i> &lt; 0.0001", 12, xanchor="right")

fig.update_layout(width=W, height=H, margin=dict(l=0, r=0, t=0, b=0),
                  paper_bgcolor="white", plot_bgcolor="white", boxmode="overlay",
                  barmode="overlay", showlegend=False, annotations=annotations,
                  shapes=shapes, **layout)

fig.write_html("out.html")
